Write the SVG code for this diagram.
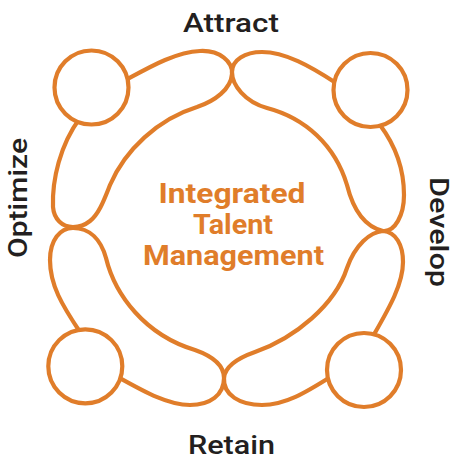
<svg xmlns="http://www.w3.org/2000/svg" width="454" height="461" viewBox="0 0 454 461">
<style>
.body{fill:#fff;stroke:#E07D2A;stroke-width:4.2;stroke-linejoin:round}
.head{fill:#fff;stroke:#E07D2A;stroke-width:4.2}
.lbl{font-family:Roboto,"Open Sans",sans-serif;font-weight:500;font-size:26px;fill:#231F20;text-anchor:middle}
.ctr{font-family:Roboto,"Open Sans",sans-serif;font-weight:700;font-size:27px;fill:#E07D2A;text-anchor:middle}
</style>
<rect width="454" height="461" fill="#fff"/>
<g id="connectors"></g>
<g id="person-tl">
<path class="body" d="M124,81 C148,68 175,52 200,51 C220,50 233,62 232,74 C231,89 215,101 197,107 C158,119 125,150 110,185 C104,200 99,214 90,221 C85,225 79,227 73,227 C62,227 54,219 53,207 C52,180 60,145 80,118 Z"/>
<circle class="head" cx="91.5" cy="87.5" r="37"/>
</g>
<g id="person-tr">
<path class="body" d="M336,83 C310,66 285,52 262,52 C245,52 232,60 232,72 C232,85 245,102 267,108 C305,118 335,145 347,185 C352,205 362,226 383,231 C395,232 404,215 404,195 C404,170 395,145 380,125 Z"/>
<circle class="head" cx="370.5" cy="90" r="37"/>
</g>
<g id="person-br">
<path class="body" d="M372,338 C388,310 403,285 403,262 C403,245 396,232 383,231 C370,232 355,245 347,268 C335,305 295,338 255,352 C238,358 225,366 224,378 C223,395 240,405 262,405 C285,405 305,393 332,376 Z"/>
<circle class="head" cx="364" cy="370" r="37"/>
</g>
<g id="person-bl">
<path class="body" d="M80,332 C62,305 50,285 50,260 C50,240 60,228 73,228 C90,228 101,240 106,258 C115,295 145,335 195,350 C212,356 224,364 224,378 C224,395 210,405 190,405 C168,405 145,392 118,377 Z"/>
<circle class="head" cx="85.3" cy="366.3" r="37"/>
</g>
<g id="center">
<text class="ctr" x="232" y="203" textLength="147" lengthAdjust="spacingAndGlyphs">Integrated</text>
<text class="ctr" x="233" y="234" textLength="80" lengthAdjust="spacingAndGlyphs">Talent</text>
<text class="ctr" x="233.5" y="265" textLength="181" lengthAdjust="spacingAndGlyphs">Management</text>
</g>
<g id="label-attract"><text class="lbl" x="231" y="32" textLength="96" lengthAdjust="spacingAndGlyphs">Attract</text></g>
<g id="label-retain"><text class="lbl" x="231.5" y="454" textLength="87" lengthAdjust="spacingAndGlyphs">Retain</text></g>
<g id="label-optimize"><text class="lbl" transform="translate(27,198) rotate(-90)" x="0" y="0" textLength="120" lengthAdjust="spacingAndGlyphs">Optimize</text></g>
<g id="label-develop"><text class="lbl" transform="translate(430,232) rotate(90)" x="0" y="0" textLength="110" lengthAdjust="spacingAndGlyphs">Develop</text></g>
</svg>
